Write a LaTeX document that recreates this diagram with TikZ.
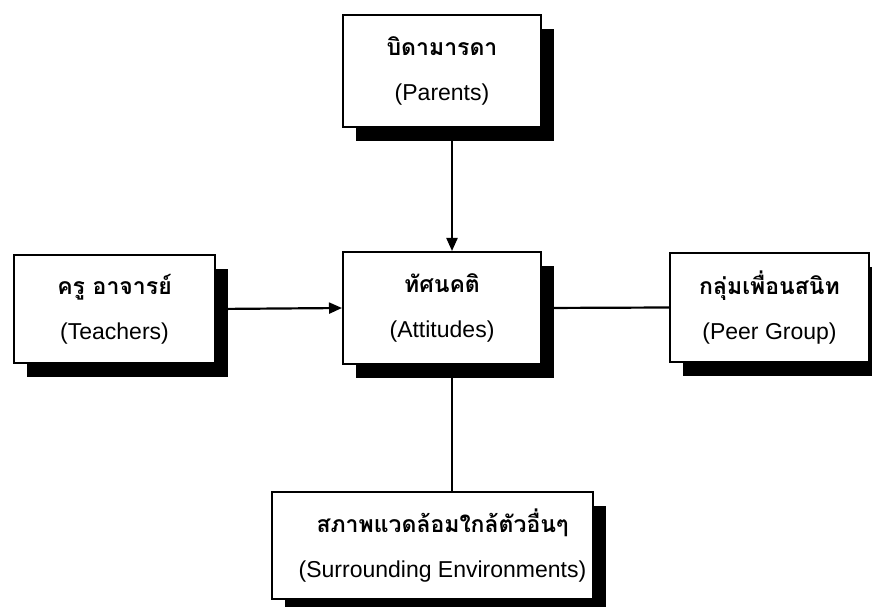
\documentclass[tikz,border=0pt]{standalone}
\usepackage{fontspec}
\setmainfont{Liberation Sans}
\newfontfamily\thaifont[Script=Thai]{Loma}
\usetikzlibrary{shadows,arrows.meta,backgrounds}
\begin{document}
\begin{tikzpicture}[x=1pt,y=1pt,
  box/.style={draw=black, line width=2pt, fill=white, align=center, inner sep=0pt,
    font=\fontsize{23}{27}\selectfont,
    drop shadow={shadow xshift=13pt, shadow yshift=-14pt, fill=black, opacity=1}},
  conn/.style={line width=2.2pt, draw=black},
  arr/.style={conn, -{Triangle[length=13pt,width=11pt]}}]
\useasboundingbox (0,0) rectangle (872,606);
\node[box, minimum width=198pt, minimum height=112pt] (P) at (442,535)
  {{\thaifont\bfseries บิดามารดา}\\[18pt](Parents)};
\node[box, minimum width=201pt, minimum height=108pt] (T) at (114.5,297)
  {{\thaifont\bfseries ครู อาจารย์}\\[18pt](Teachers)};
\node[box, minimum width=198pt, minimum height=112pt] (A) at (442,298)
  {{\thaifont\bfseries ทัศนคติ}\\[18pt](Attitudes)};
\node[box, minimum width=199pt, minimum height=109pt] (G) at (769.5,298.5)
  {{\thaifont\bfseries กลุ่มเพื่อนสนิท}\\[18pt](Peer Group)};
\node[box, minimum width=321pt, minimum height=107pt] (S) at (432.5,60.5)
  {\hspace*{20pt}{\thaifont\bfseries สภาพแวดล้อมใกล้ตัวอื่นๆ}\\[18pt]\hspace*{20pt}(Surrounding Environments)};
\begin{scope}[on background layer]
\fill[white] (0,0) rectangle (872,606);
\draw[arr] ([xshift=10pt]P.south) -- ([xshift=10pt]A.north);
\draw[arr] (T.east) -- (A.west);
\draw[conn] (A.east) -- (G.west);
\draw[conn] ([xshift=10pt]A.south) -- ([xshift=10pt]A.south |- S.north);
\end{scope}
\end{tikzpicture}
\end{document}
